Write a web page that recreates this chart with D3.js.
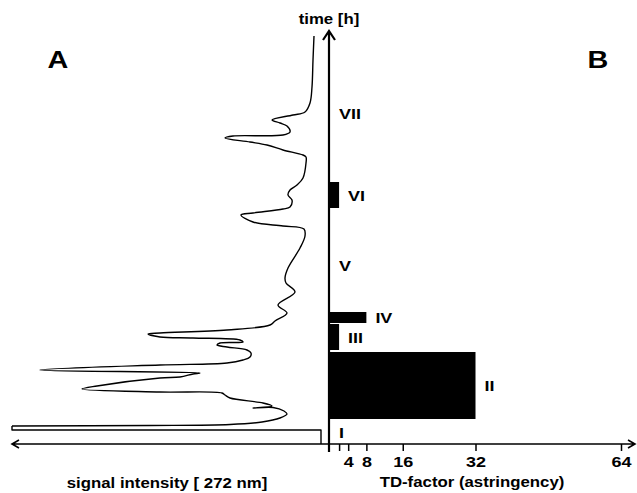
<!DOCTYPE html>
<html>
<head>
<meta charset="utf-8">
<script src="https://cdn.jsdelivr.net/npm/d3@7"></script>
<style>
  body { margin: 0; background: #fff; }
  svg { display: block; }
  text { font-family: "Liberation Sans", Arial, Helvetica, sans-serif; font-weight: bold; fill: #000; }
</style>
</head>
<body>
<svg id="Vis" width="637" height="493"></svg>
<script>
/* DATA */
// chromatogram (time in min from start, signal in arbitrary units)
const traceTime = [0, 14, 14, 18, 18.5, 19.5, 22, 26, 30, 33, 36.5, 36, 38, 41, 46, 49, 51, 52, 55, 58,
  66, 67, 70, 71, 74, 79, 81, 84, 87, 91, 94, 97, 99, 101, 102, 104, 106, 107, 110, 111,
  114, 119, 123, 131, 139, 152, 161, 166, 176, 196, 208, 215, 218, 222, 229, 231, 235, 237, 244, 249,
  254, 259, 266, 281, 287, 289, 294, 299, 302, 306, 308, 309, 312, 318, 321, 324, 329, 332, 341, 357,
  384, 408];
const traceSignal = [8, 8, 317, 317, 179, 99, 67, 49, 42, 45, 56, 76, 57, 66, 99, 104, 107, 169, 247, 232,
  169, 149, 136, 129, 289, 169, 102, 86, 79, 78, 82, 102, 112, 109, 86, 89, 136, 169, 181, 169,
  102, 59, 54, 42, 51, 34, 43, 44, 41, 29, 24, 25, 46, 76, 88, 76, 46, 39, 37, 41,
  39, 32, 26, 23, 23, 26, 46, 62, 79, 104, 96, 46, 39, 42, 49, 57, 36, 24, 19, 17,
  16, 15];

// fractions and their taste dilution factors
const fractions = ["I", "II", "III", "IV", "V", "VI", "VII"];
const fracStart = [0, 25, 94, 121, 132, 236, 262];
const fracEnd = [24, 92, 120, 132, 226, 262, 400];
const tdFactor = [0, 32, 2, 8, 0, 2, 0];

const tdTicks = [2, 4, 8, 16, 32, 64];
const tdLabels = ["", "4", "8", "16", "32", "64"];

const svg = d3.select("svg#Vis");
const plot = svg.append("g").attr("id", "plot");

/* SCALES */
const timeScale = d3.scaleLinear().domain([0, 414]).range([444, 30]);
const tdScale = d3.scaleLinear().domain([0, 64]).range([330, 621]);
const sigScale = d3.scaleLinear().domain([0, 317]).range([329, 12]);

// stretched bold text like the original figure
function label(g, str, x, y, size, anchor) {
  return g.append("text")
    .attr("transform", translate(x, y) + " scale(1.2,1)")
    .attr("text-anchor", anchor || "middle")
    .style("font-size", size + "px")
    .text(str);
}

/* CHROMATOGRAM */
// first part (injection / solvent front) has sharp corners, the rest is smooth
const trace = traceTime.map((t, i) => [t, traceSignal[i]]);
const sharp = d3.line()
  .x(d => sigScale(d[1]))
  .y(d => timeScale(d[0]));
const smooth = d3.line()
  .x(d => sigScale(d[1]))
  .y(d => timeScale(d[0]))
  .curve(d3.curveCatmullRom.alpha(0.5));

const traceG = plot.append("g").attr("id", "trace")
  .attr("fill", "none")
  .attr("stroke", "#000")
  .attr("stroke-width", 1.4)
  .attr("stroke-linejoin", "round");
traceG.append("path").attr("d", sharp(trace.slice(0, 4)));
traceG.append("path").attr("d", smooth(trace.slice(3)));

/* BARS */
const idx = d3.range(fractions.length);
plot.append("g").attr("id", "bars")
  .selectAll("rect")
  .data(idx.filter(i => tdFactor[i] > 0))
  .enter()
  .append("rect")
    .attr("x", tdScale(0))
    .attr("y", i => timeScale(fracEnd[i]))
    .attr("width", i => tdScale(tdFactor[i]) - tdScale(0))
    .attr("height", i => timeScale(fracStart[i]) - timeScale(fracEnd[i]))
    .attr("fill", "#000");

const fracLabels = plot.append("g").attr("id", "frac-labels");
idx.forEach(i => {
  label(fracLabels, fractions[i], tdScale(tdFactor[i]) + 9,
        (timeScale(fracStart[i]) + timeScale(fracEnd[i])) / 2 + 5.5, 15, "start");
});

/* AXES */
const y0 = timeScale(0);
const axisG = plot.append("g").attr("id", "x-axis")
  .attr("transform", translate(0, y0))
  .call(d3.axisBottom(tdScale).tickValues(tdTicks).tickSize(7)
    .tickFormat((d, i) => tdLabels[i]));
axisG.select(".domain").remove();
axisG.selectAll(".tick line").attr("stroke-width", 1.5);
axisG.selectAll(".tick text")
  .attr("y", 23).attr("dy", null)
  .attr("transform", "scale(1.2,1)")
  .style("font-size", "15px")
  .style("font-family", null);

// long horizontal axis with arrows both ways
const xl = sigScale(317), xr = 635;
plot.append("path")
  .attr("d", `M${xl},${y0}H${xr} M${xl + 7},${y0 - 4}L${xl},${y0}L${xl + 7},${y0 + 4} M${xr - 7},${y0 - 4}L${xr},${y0}L${xr - 7},${y0 + 4}`)
  .attr("fill", "none").attr("stroke", "#000").attr("stroke-width", 1.6);

// vertical time axis
const xv = sigScale(0), yt = timeScale(414) + 1;
plot.append("path")
  .attr("d", `M${xv},${y0 + 8}V${yt} M${xv - 6},${yt + 9}L${xv},${yt}L${xv + 6},${yt + 9}`)
  .attr("fill", "none").attr("stroke", "#000").attr("stroke-width", 2.2);

/* TEXT */
label(plot, "time [h]", xv, 24, 14);
label(plot, "signal intensity [ 272 nm]", 167, 488, 14);
label(plot, "TD-factor (astringency)", 472, 487, 14);
label(plot, "A", 58, 68, 24);
label(plot, "B", 598, 68, 24);

function translate(x, y) {
  return 'translate(' + String(x) + ',' + String(y) + ')';
}
</script>
</body>
</html>
